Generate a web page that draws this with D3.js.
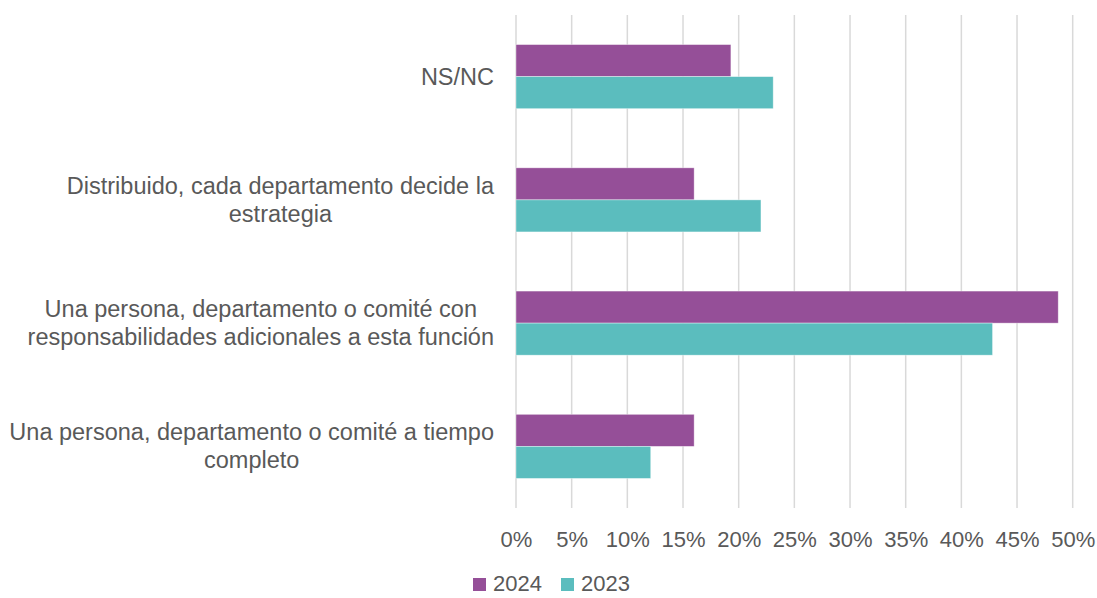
<!DOCTYPE html>
<html>
<head>
<meta charset="utf-8">
<script src="https://cdn.jsdelivr.net/npm/d3@7"></script>
<style>
  body { margin: 0; background: #fff; }
  text { font-family: "Liberation Sans", Arial, sans-serif; fill: #595959; }
</style>
</head>
<body>
<div id="chart"></div>
<script>
// categories, top to bottom ("\n" marks the line break of the label)
const categories = [
    "NS/NC",
    "Distribuido, cada departamento decide la\nestrategia",
    "Una persona, departamento o comité con\nresponsabilidades adicionales a esta función",
    "Una persona, departamento o comité a tiempo\ncompleto"
];
const series = ["2024", "2023"];
const values2024 = [19.3, 16.0, 48.7, 16.0];
const values2023 = [23.1, 22.0, 42.8, 12.1];
const xTicks = [0, 5, 10, 15, 20, 25, 30, 35, 40, 45, 50];
const colors = { "2024": "#954F98", "2023": "#5BBDBE" };

const data = categories.map((c, i) => ({ category: c, "2024": values2024[i], "2023": values2023[i] }));

const W = 1097, H = 598;
const margin = { top: 15, right: 25, bottom: 91, left: 516 };

const svg = d3.select("#chart").append("svg")
    .attr("width", W)
    .attr("height", H);

const x = d3.scaleLinear()
    .domain([0, 50])
    .range([margin.left, margin.left + 556.7]);

const y = d3.scaleBand()
    .domain(categories)
    .range([margin.top, H - margin.bottom + 1])
    .paddingInner(0.48)
    .paddingOuter(0.24);

const ySub = d3.scaleBand()
    .domain(series)
    .range([0, y.bandwidth()]);

// gridlines
svg.append("g")
    .selectAll("line")
    .data(xTicks)
    .join("line")
    .attr("x1", d => x(d))
    .attr("x2", d => x(d))
    .attr("y1", margin.top)
    .attr("y2", H - margin.bottom + 1)
    .attr("stroke", "#d9d9d9")
    .attr("stroke-width", 1.5);

// bars
const groups = svg.append("g")
    .selectAll("g")
    .data(data)
    .join("g")
    .attr("transform", d => `translate(0,${y(d.category)})`);

groups.selectAll("rect")
    .data(d => series.map(s => ({ key: s, value: d[s] })))
    .join("rect")
    .attr("x", x(0))
    .attr("y", d => ySub(d.key))
    .attr("width", d => x(d.value) - x(0))
    .attr("height", ySub.bandwidth())
    .attr("fill", d => colors[d.key])
    .attr("stroke", "#ffffff")
    .attr("stroke-opacity", 0.5)
    .attr("stroke-width", 0.75);

// x axis tick labels
const xAxis = svg.append("g")
    .attr("transform", `translate(0,${H - margin.bottom + 1})`)
    .call(d3.axisBottom(x).tickValues(xTicks).tickFormat(d => d + "%").tickSize(0).tickPadding(23));
xAxis.select(".domain").remove();
xAxis.selectAll("text")
    .style("font-size", "22px")
    .style("fill", "#595959")
    .style("font-family", "'Liberation Sans', Arial, sans-serif");

// category labels: block right aligned, lines centered within the block
const lineH = 28;
const labelRight = 494;
categories.forEach(c => {
    const lines = c.split("\n");
    const cy = y(c) + y.bandwidth() / 2;
    const g = svg.append("g");
    const texts = lines.map((line, i) => g.append("text")
        .attr("y", cy + (i - (lines.length - 1) / 2) * lineH + 8)
        .attr("text-anchor", "middle")
        .style("font-size", "23.5px")
        .text(line));
    const maxW = d3.max(texts, t => t.node().getComputedTextLength());
    texts.forEach(t => t.attr("x", labelRight - maxW / 2));
});

// legend
const legend = svg.append("g")
    .attr("transform", "translate(473,578)");
const legendX = [0, 88];
series.forEach((s, i) => {
    legend.append("rect")
        .attr("x", legendX[i])
        .attr("y", 0)
        .attr("width", 13)
        .attr("height", 13)
        .attr("fill", colors[s]);
    legend.append("text")
        .attr("x", legendX[i] + 20)
        .attr("y", 13)
        .style("font-size", "22px")
        .text(s);
});
</script>
</body>
</html>
